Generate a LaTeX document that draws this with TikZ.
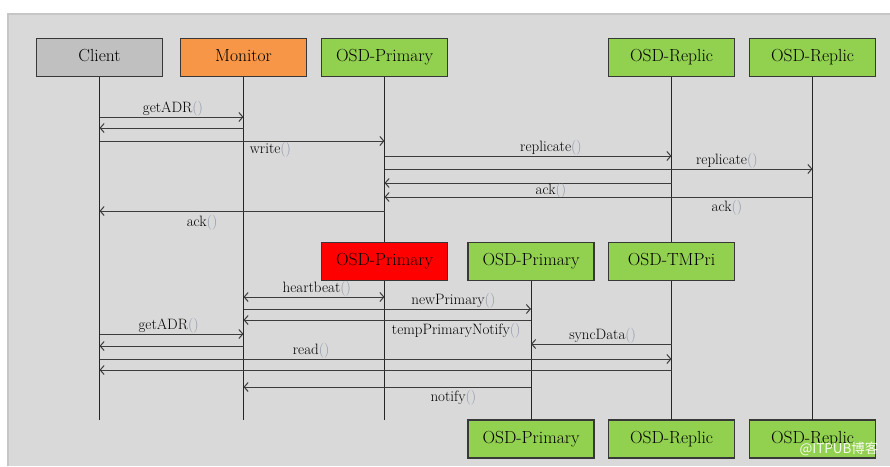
\documentclass[tikz,border=0pt]{standalone}
\usepackage{fontspec}
\newfontfamily\cjkfont{Noto Sans CJK SC}
\usetikzlibrary{positioning,arrows.meta}
\definecolor{bgray}{HTML}{D9D9D9}
\definecolor{bedge}{HTML}{C6C6C6}
\definecolor{boxline}{HTML}{383838}
\definecolor{cgray}{HTML}{C0C0C0}
\definecolor{morange}{HTML}{F79646}
\definecolor{ogreen}{HTML}{92D050}
\definecolor{msgline}{HTML}{3C3C3C}
\definecolor{parcol}{HTML}{8C96A8}
\newcommand{\pp}{\textcolor{parcol}{()}}

\begin{document}
\begin{tikzpicture}[x=1pt,y=-1pt,>={Straight Barb[length=4pt,width=9pt]},
    box/.style={draw=boxline,line width=1.4pt,minimum width=126pt,minimum height=38pt,
      inner sep=0pt,outer sep=0pt,text height=12pt,text depth=4pt,
      font=\fontsize{17.5}{20}\selectfont},
    life/.style={line width=1pt,black!85},
    msg/.style={line width=1pt,msgline,->},
    lbl/.style={font=\fontsize{15}{17}\selectfont,inner sep=1pt,text=black}]
  \useasboundingbox (0,0) rectangle (890,466);
  % background
  \fill[bgray] (7,13) rectangle (890,466);
  \draw[line width=1.5pt,bedge] (7.75,466) -- (7.75,13.75) -- (890,13.75);

  % top row
  \node[box,fill=cgray] (client) at (99.5,57.5) {Client};
  \node[box,fill=morange] (monitor) at (243.5,57.5) {Monitor};
  \node[box,fill=ogreen] (osdp) at (384.5,57.5) {OSD-Primary};
  \node[box,fill=ogreen] (rep1) at (671.5,57.5) {OSD-Replic};
  \node[box,fill=ogreen,right=15pt of rep1] (rep2) {OSD-Replic};

  % bottom row
  \node[box,fill=ogreen] (bprim) at (531,439) {OSD-Primary};
  \node[box,fill=ogreen,right=14.5pt of bprim] (brep1) {OSD-Replic};
  \node[box,fill=ogreen,right=15pt of brep1] (brep2) {OSD-Replic};

  % lifelines
  \draw[life] (client.south) -- (client |- bprim.north);
  \draw[life] (monitor.south) -- (monitor |- bprim.north);
  \draw[life] (osdp.south) -- (osdp |- bprim.north);
  \draw[life] (rep1.south) -- (brep1.north);
  \draw[life] (rep2.south) -- (brep2.north);

  % middle row
  \node[box,fill=red] (failp) at (384.5,261.5) {OSD-Primary};
  \node[box,fill=ogreen] (mprim) at (531,261.5) {OSD-Primary};
  \node[box,fill=ogreen,right=14.5pt of mprim] (tmpri) {OSD-TMPri};
  \draw[life] (mprim.south) -- (bprim.north);

  % write path
  \draw[msg] (client |- 0,117) -- (monitor |- 0,117) node[lbl,above=-1pt,pos=0.51] {getADR\pp};
  \draw[msg] (monitor |- 0,128) -- (client |- 0,128);
  \draw[msg] (client |- 0,141) -- (osdp |- 0,141) node[lbl,below,pos=0.6] {write\pp};
  \draw[msg] (osdp |- 0,156) -- (rep1 |- 0,156) node[lbl,above=-1pt,pos=0.58] {replicate\pp};
  \draw[msg] (osdp |- 0,169) -- (rep2 |- 0,169) node[lbl,above=-1pt,pos=0.8] {replicate\pp};
  \draw[msg] (rep1 |- 0,183) -- (osdp |- 0,183) node[lbl,below=-1pt,pos=0.42] {ack\pp};
  \draw[msg] (rep2 |- 0,197) -- (osdp |- 0,197) node[lbl,below=2pt,pos=0.2] {ack\pp};
  \draw[msg] (osdp |- 0,211) -- (client |- 0,211) node[lbl,below=3pt,pos=0.64] {ack\pp};

  % failover path
  \draw[msg,<->] (monitor |- 0,297) -- (failp |- 0,297) node[lbl,above=-1pt,pos=0.52] {heartbeat\pp};
  \draw[msg] (monitor |- 0,309) -- (mprim |- 0,309) node[lbl,above=-1pt,pos=0.73] {newPrimary\pp};
  \draw[msg] (mprim |- 0,320) -- (monitor |- 0,320) node[lbl,below=2pt,pos=0.26] {tempPrimaryNotify\pp};
  \draw[msg] (client |- 0,334) -- (monitor |- 0,334) node[lbl,above=-1pt,pos=0.48] {getADR\pp};
  \draw[msg] (monitor |- 0,346) -- (client |- 0,346);
  \draw[msg] (tmpri |- 0,344) -- (mprim |- 0,344) node[lbl,above=-1pt,pos=0.49] {syncData\pp};
  \draw[msg] (client |- 0,359) -- (tmpri |- 0,359) node[lbl,above=-1pt,pos=0.37] {read\pp};
  \draw[msg] (tmpri |- 0,370) -- (client |- 0,370);
  \draw[msg] (mprim |- 0,387) -- (monitor |- 0,387) node[lbl,below=2pt,pos=0.27] {notify\pp};

  \node[font=\cjkfont\fontsize{13.5}{14}\selectfont,text=white,opacity=0.9] (mark) at (839,449) {@ITPUB博客};
\end{tikzpicture}
\end{document}
